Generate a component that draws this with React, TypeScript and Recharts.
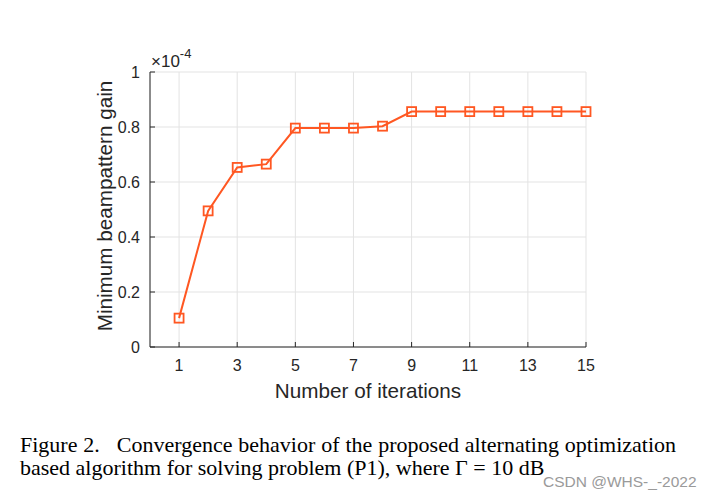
import React from 'react';
import { LineChart, Line, XAxis, YAxis, CartesianGrid } from 'recharts';

const iterations = [1, 2, 3, 4, 5, 6, 7, 8, 9, 10, 11, 12, 13, 14, 15];
const gains = [0.105, 0.495, 0.653, 0.665, 0.796, 0.796, 0.796, 0.803, 0.856, 0.856, 0.856, 0.856, 0.856, 0.856, 0.856];
const xTicks = [1, 3, 5, 7, 9, 11, 13, 15];
const yTicks = [0, 0.2, 0.4, 0.6, 0.8, 1];
const xLabel = 'Number of iterations';
const yLabel = 'Minimum beampattern gain';
const captionLine1 = 'Figure 2.\u00a0\u00a0 Convergence behavior of the proposed alternating optimization';
const captionLine2 = 'based algorithm for solving problem (P1), where \u0393 = 10 dB';
const watermark = 'CSDN @WHS-_-2022';

const data = iterations.map((it, i) => ({ it, g: gains[i] }));

const AXIS = '#262626';
const LINE = '#FF5722';
const SANS = 'Liberation Sans, Arial, sans-serif';

const SquareDot = (props: any) => {
  const { cx, cy } = props;
  if (cx == null || cy == null) return null;
  return <rect x={cx - 4.5} y={cy - 4.5} width={9} height={9} fill="none" stroke={LINE} strokeWidth={1.8} />;
};

const Empty = () => <g />;

export default function App() {
  return (
    <div style={{ position: 'absolute', left: 0, top: 0, width: 705, height: 496, background: '#fff', overflow: 'hidden' }}>
      <LineChart
        width={705}
        height={496}
        data={data}
        margin={{ top: 72, right: 119, bottom: 99, left: 0 }}
      >
        <CartesianGrid stroke="#e3e3e3" strokeWidth={1} horizontal vertical />
        <XAxis
          dataKey="it"
          type="number"
          domain={[0, 15]}
          ticks={xTicks}
          interval={0}
          height={50}
          axisLine={{ stroke: AXIS }}
          tickLine={{ stroke: AXIS }}
          tickSize={-5}
          tickMargin={18}
          tick={{ fill: AXIS, fontSize: 16, fontFamily: SANS }}
        />
        <XAxis
          xAxisId="top"
          orientation="top"
          dataKey="it"
          type="number"
          domain={[0, 15]}
          ticks={xTicks}
          interval={0}
          height={0}
          axisLine={{ stroke: AXIS }}
          tickLine={{ stroke: AXIS }}
          tickSize={-5}
          tick={Empty}
        />
        <YAxis
          type="number"
          domain={[0, 1]}
          ticks={yTicks}
          interval={0}
          width={150}
          axisLine={{ stroke: AXIS }}
          tickLine={{ stroke: AXIS }}
          tickSize={-5}
          tickMargin={15}
          tickFormatter={(v: number) => String(v)}
          tick={{ fill: AXIS, fontSize: 16, fontFamily: SANS }}
        />
        <YAxis
          yAxisId="right"
          orientation="right"
          type="number"
          domain={[0, 1]}
          ticks={yTicks}
          interval={0}
          width={0}
          axisLine={{ stroke: AXIS }}
          tickLine={{ stroke: AXIS }}
          tickSize={-5}
          tick={Empty}
        />
        <Line
          dataKey="g"
          stroke={LINE}
          strokeWidth={2}
          dot={<SquareDot />}
          activeDot={false}
          isAnimationActive={false}
        />
      </LineChart>

      <div style={{ position: 'absolute', left: 151, top: 47, fontFamily: SANS, fontSize: 17, color: AXIS, whiteSpace: 'nowrap', lineHeight: '18px' }}>
        <span>{'\u00d710'}</span>
        <sup style={{ fontSize: 13, position: 'relative', top: -2 }}>-4</sup>
      </div>

      <div style={{ position: 'absolute', left: 105, top: 206, width: 0, height: 0 }}>
        <div style={{ position: 'absolute', left: 0, top: 0, transform: 'translate(-50%, -50%) rotate(-90deg)', fontFamily: SANS, fontSize: 20.7, color: AXIS, whiteSpace: 'nowrap' }}>
          {yLabel}
        </div>
      </div>

      <div style={{ position: 'absolute', left: 368, top: 391, width: 0, height: 0 }}>
        <div style={{ position: 'absolute', left: 0, top: 0, transform: 'translate(-50%, -50%)', fontFamily: SANS, fontSize: 20.7, color: AXIS, whiteSpace: 'nowrap' }}>
          {xLabel}
        </div>
      </div>

      <div style={{ position: 'absolute', left: 20, top: 433, width: 656, fontFamily: 'Liberation Serif, Times New Roman, serif', fontSize: 22, color: '#000', lineHeight: '23px' }}>
        <div style={{ whiteSpace: 'nowrap', display: 'flex', justifyContent: 'space-between', height: 23 }}>
          {captionLine1.split(' ').map((w, i) => <span key={i}>{w}</span>)}
        </div>
        <div style={{ whiteSpace: 'nowrap', height: 23 }}>{captionLine2}</div>
      </div>

      <div style={{ position: 'absolute', left: 543, top: 473, fontFamily: SANS, fontSize: 15.5, color: '#9a9a9a', whiteSpace: 'nowrap' }}>
        {watermark}
      </div>
    </div>
  );
}
